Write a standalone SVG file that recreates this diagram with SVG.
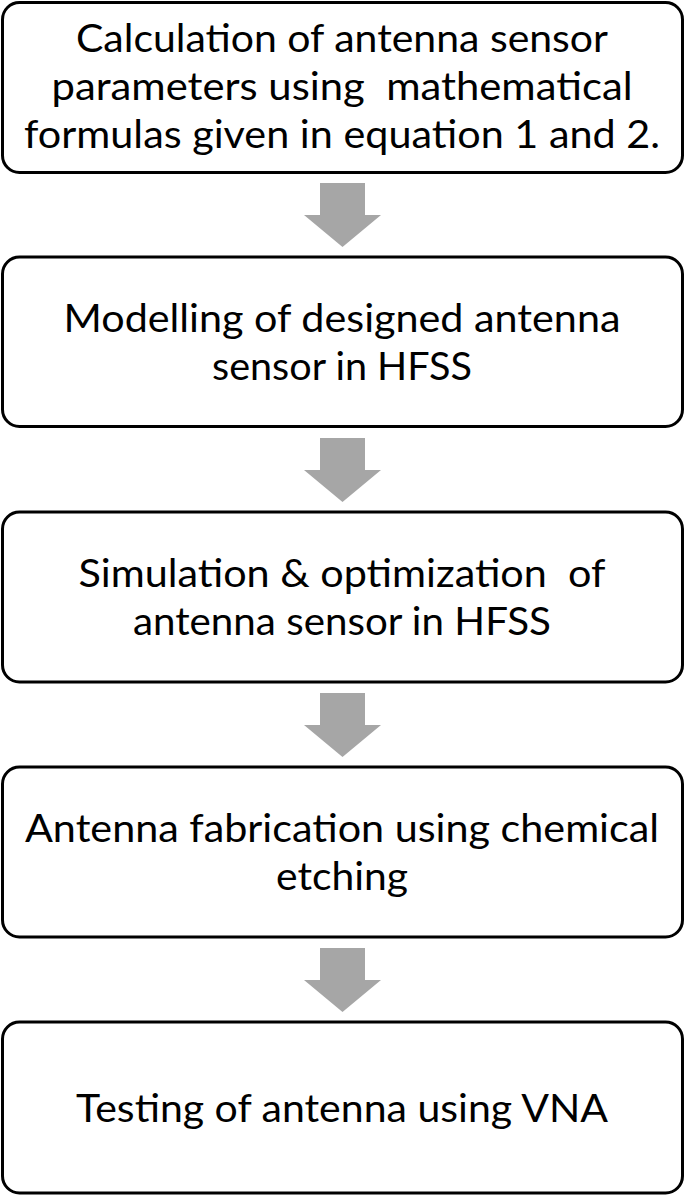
<svg xmlns="http://www.w3.org/2000/svg" width="685" height="1196" viewBox="0 0 685 1196">
<style>
.box{fill:#ffffff;stroke:#000000;stroke-width:3}
.lbl{font-family:Lato,"Open Sans","Liberation Sans",sans-serif;font-size:38px;fill:#000000;text-anchor:middle}
.arr{fill:#a6a6a6}
</style>
<defs>
<polygon id="downArrow" class="arr" points="320,0 365,0 365,32 381,32 342.5,64 304,32 320,32"/>
</defs>
<rect width="685" height="1196" fill="#ffffff"/>
<g id="connectors">
<use href="#downArrow" y="183"/>
<use href="#downArrow" y="438"/>
<use href="#downArrow" y="693"/>
<use href="#downArrow" y="948"/>
</g>
<g id="node1">
<rect class="box" x="2.5" y="2.5" width="680" height="170" rx="17"/>
<text class="lbl" x="342" y="52" textLength="532" lengthAdjust="spacingAndGlyphs">Calculation of antenna sensor</text>
<text class="lbl" x="342" y="100" textLength="581" lengthAdjust="spacingAndGlyphs" xml:space="preserve">parameters using  mathematical</text>
<text class="lbl" x="342" y="148" textLength="636" lengthAdjust="spacingAndGlyphs">formulas given in equation 1 and 2.</text>
</g>
<g id="node2">
<rect class="box" x="2.5" y="257" width="680" height="169.5" rx="17"/>
<text class="lbl" x="342" y="332" textLength="557" lengthAdjust="spacingAndGlyphs">Modelling of designed antenna</text>
<text class="lbl" x="342" y="380" textLength="260" lengthAdjust="spacingAndGlyphs">sensor in HFSS</text>
</g>
<g id="node3">
<rect class="box" x="2.5" y="512" width="680" height="170" rx="17"/>
<text class="lbl" x="342" y="587" textLength="527" lengthAdjust="spacingAndGlyphs" xml:space="preserve">Simulation &amp; optimization  of</text>
<text class="lbl" x="342" y="635" textLength="418" lengthAdjust="spacingAndGlyphs">antenna sensor in HFSS</text>
</g>
<g id="node4">
<rect class="box" x="2.5" y="767" width="680" height="170" rx="17"/>
<text class="lbl" x="342" y="842" textLength="634" lengthAdjust="spacingAndGlyphs">Antenna fabrication using chemical</text>
<text class="lbl" x="342" y="890" textLength="132" lengthAdjust="spacingAndGlyphs">etching</text>
</g>
<g id="node5">
<rect class="box" x="2.5" y="1022" width="680" height="171" rx="17"/>
<text class="lbl" x="342" y="1122" textLength="532" lengthAdjust="spacingAndGlyphs">Testing of antenna using VNA</text>
</g>
</svg>
